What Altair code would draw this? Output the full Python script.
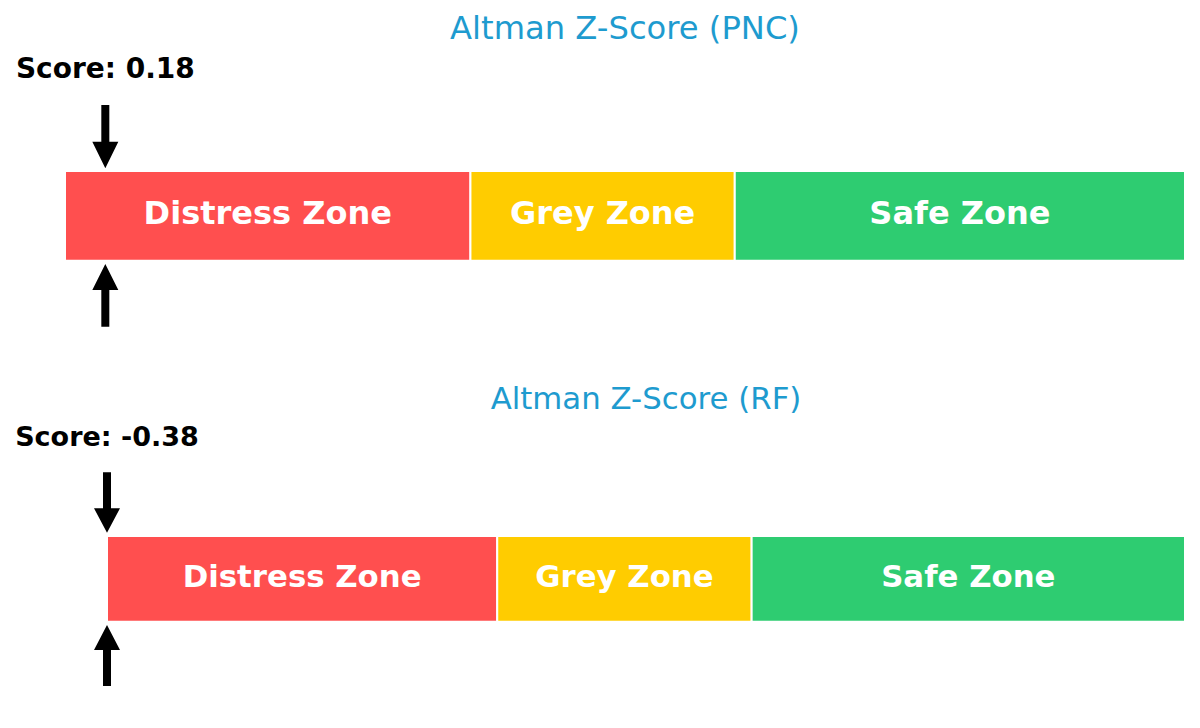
import altair as alt
import pandas as pd

# ---- data ----
companies = ["PNC", "RF"]
scores = [0.18, -0.38]
zone_names = ["Distress Zone", "Grey Zone", "Safe Zone"]
zone_starts = [0.0, 1.81, 2.99]
zone_ends = [1.81, 2.99, 5.0]

# ---- styles ----
zone_colors = ["#FF4F4F", "#FFCC00", "#2ECC71"]
TITLE_COLOR = "#1E9BCF"
FONT = "DejaVu Sans"
W = 1184

layouts = [
    dict(rng=[57, 1177], height=365, title_y=31, score_y=70,
         down_tip=160.3, down_top=97, down_head=133.7,
         bar_top=163, bar_bot=252.7,
         up_tip=256, up_head=282, up_bot=318.7,
         label_y=216.3, title_fs=32.2, label_fs=32, score_fs=28),
    dict(rng=[99, 1177], height=347, title_y=36.3, score_y=73,
         down_tip=159.7, down_top=99.3, down_head=135.3,
         bar_top=163, bar_bot=248.7,
         up_tip=252, up_head=277, up_bot=313,
         label_y=214.3, title_fs=30.8, label_fs=30.8, score_fs=27),
]


def arrow_path(length, head, down=True):
    s = -1 if down else 1
    return (f"M-4,{s*length} L4,{s*length} L4,{s*head} L13,{s*head} "
            f"L0,0 L-13,{s*head} L-4,{s*head} Z")


def panel(company, score, lay):
    lo, hi = zone_starts[0], zone_ends[-1]
    xscale = alt.Scale(domain=[lo, hi], range=lay["rng"], clamp=True, nice=False, zero=False)

    zones = pd.DataFrame({"zone": zone_names, "start": zone_starts, "end": zone_ends})
    zones["mid"] = (zones["start"] + zones["end"]) / 2

    sdf = pd.DataFrame({"score": [score], "label": [f"Score: {score:.2f}"]})
    tdf = pd.DataFrame({"mid": [(lo + hi) / 2], "title": [f"Altman Z-Score ({company})"]})

    bars = alt.Chart(zones).mark_rect(stroke="white", strokeWidth=2).encode(
        x=alt.X("start:Q", scale=xscale, axis=None),
        x2="end:Q",
        y=alt.value(lay["bar_top"]),
        y2=alt.value(lay["bar_bot"]),
        color=alt.Color("zone:N", scale=alt.Scale(domain=zone_names, range=zone_colors), legend=None),
    )
    labels = alt.Chart(zones).mark_text(
        font=FONT, fontSize=lay["label_fs"], fontWeight="bold", color="white",
        align="center", baseline="alphabetic",
    ).encode(
        x=alt.X("mid:Q", scale=xscale, axis=None),
        y=alt.value(lay["label_y"]),
        text="zone:N",
    )
    title = alt.Chart(tdf).mark_text(
        font=FONT, fontSize=lay["title_fs"], color=TITLE_COLOR,
        align="center", baseline="alphabetic",
    ).encode(
        x=alt.X("mid:Q", scale=xscale, axis=None),
        y=alt.value(lay["title_y"]),
        text="title:N",
    )
    stext = alt.Chart(sdf).mark_text(
        font=FONT, fontSize=lay["score_fs"], fontWeight="bold", color="black",
        align="center", baseline="alphabetic",
    ).encode(
        x=alt.X("score:Q", scale=xscale, axis=None),
        y=alt.value(lay["score_y"]),
        text="label:N",
    )
    down = alt.Chart(sdf).mark_point(
        shape=arrow_path(lay["down_tip"] - lay["down_top"], lay["down_tip"] - lay["down_head"], True),
        size=4, filled=True, color="black", opacity=1, strokeWidth=0,
    ).encode(
        x=alt.X("score:Q", scale=xscale, axis=None),
        y=alt.value(lay["down_tip"]),
    )
    up = alt.Chart(sdf).mark_point(
        shape=arrow_path(lay["up_bot"] - lay["up_tip"], lay["up_head"] - lay["up_tip"], False),
        size=4, filled=True, color="black", opacity=1, strokeWidth=0,
    ).encode(
        x=alt.X("score:Q", scale=xscale, axis=None),
        y=alt.value(lay["up_tip"]),
    )
    return alt.layer(bars, labels, title, stext, down, up).properties(
        width=W, height=lay["height"]
    )


panels = [panel(c, s, lay) for c, s, lay in zip(companies, scores, layouts)]

chart = alt.vconcat(*panels, spacing=0).resolve_scale(
    x="independent", color="independent"
).properties(padding=0).configure_view(stroke=None)

chart.save("out.html", embed_options={"renderer": "svg", "actions": False})
